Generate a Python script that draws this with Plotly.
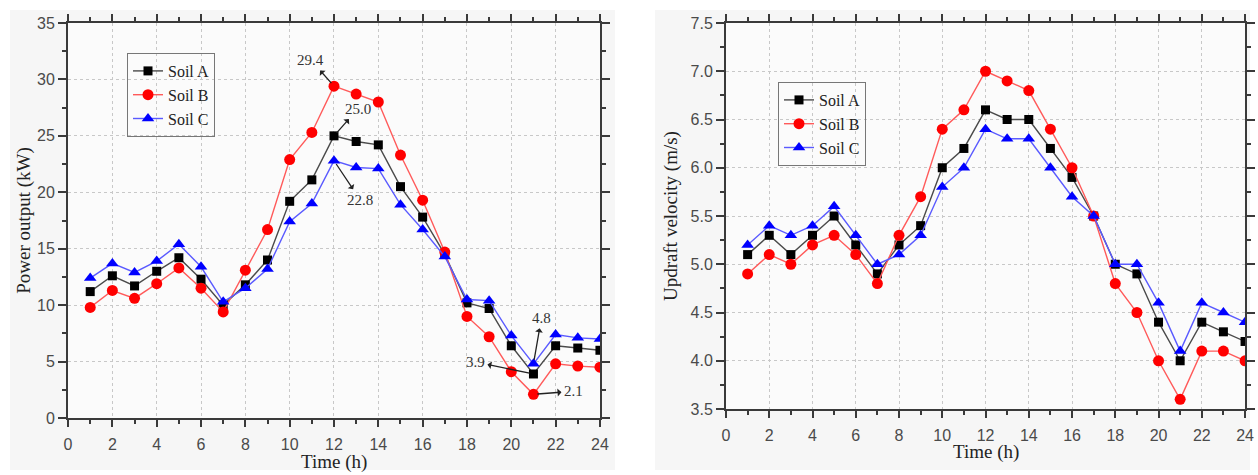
import plotly.graph_objects as go

# Hour of day
hours = list(range(1, 25))

# Power output (kW) per soil type
power_soil_a = [11.2, 12.6, 11.7, 13.0, 14.2, 12.3, 10.0, 11.8, 14.0, 19.2, 21.1, 25.0,
                24.5, 24.2, 20.5, 17.8, 14.5, 10.2, 9.7, 6.4, 3.9, 6.4, 6.2, 6.0]
power_soil_b = [9.8, 11.3, 10.6, 11.9, 13.3, 11.5, 9.4, 13.1, 16.7, 22.9, 25.3, 29.4,
                28.7, 28.0, 23.3, 19.3, 14.7, 9.0, 7.2, 4.1, 2.1, 4.8, 4.6, 4.5]
power_soil_c = [12.4, 13.7, 12.9, 13.9, 15.4, 13.4, 10.3, 11.5, 13.2, 17.4, 19.0, 22.8,
                22.2, 22.1, 18.9, 16.7, 14.3, 10.5, 10.4, 7.3, 4.8, 7.4, 7.1, 7.0]

# Updraft velocity (m/s) per soil type
velocity_soil_a = [5.1, 5.3, 5.1, 5.3, 5.5, 5.2, 4.9, 5.2, 5.4, 6.0, 6.2, 6.6,
                   6.5, 6.5, 6.2, 5.9, 5.5, 5.0, 4.9, 4.4, 4.0, 4.4, 4.3, 4.2]
velocity_soil_b = [4.9, 5.1, 5.0, 5.2, 5.3, 5.1, 4.8, 5.3, 5.7, 6.4, 6.6, 7.0,
                   6.9, 6.8, 6.4, 6.0, 5.5, 4.8, 4.5, 4.0, 3.6, 4.1, 4.1, 4.0]
velocity_soil_c = [5.2, 5.4, 5.3, 5.4, 5.6, 5.3, 5.0, 5.1, 5.3, 5.8, 6.0, 6.4,
                   6.3, 6.3, 6.0, 5.7, 5.5, 5.0, 5.0, 4.6, 4.1, 4.6, 4.5, 4.4]

series_names = ["Soil A", "Soil B", "Soil C"]

# Labelled points on the power chart: (hour, value, text offset x, text offset y)
power_callouts = [
    (12, 29.4, -23, -26),
    (12, 25.0, 24, -27),
    (12, 22.8, 26, 39),
    (21, 4.8, 8, -46),
    (21, 3.9, -58, -12),
    (21, 2.1, 40, -3),
]

styles = [
    dict(marker=dict(symbol="square", size=9, color="#000000"), line=dict(color="#4a4a4a", width=1.4)),
    dict(marker=dict(symbol="circle", size=11, color="#ff0000"), line=dict(color="#ff5a5a", width=1.4)),
    dict(marker=dict(symbol="triangle-up", size=11, color="#0000ff"), line=dict(color="#5a5aff", width=1.4)),
]

SERIF = "Liberation Serif"
SANS = "Liberation Sans"
AXIS_COLOR = "#3a3a3a"
TICK_FONT = dict(family=SANS, size=16, color="#4a4a4a")
TITLE_FONT = dict(family=SERIF, size=19, color="#222222")

fig = go.Figure()

for name, ys, st in zip(series_names, [power_soil_a, power_soil_b, power_soil_c], styles):
    fig.add_trace(go.Scatter(x=hours, y=ys, name=name, mode="lines+markers",
                             marker=st["marker"], line=st["line"],
                             xaxis="x", yaxis="y", legend="legend"))

for name, ys, st in zip(series_names, [velocity_soil_a, velocity_soil_b, velocity_soil_c], styles):
    fig.add_trace(go.Scatter(x=hours, y=ys, name=name, mode="lines+markers",
                             marker=st["marker"], line=st["line"],
                             xaxis="x2", yaxis="y2", legend="legend2"))

left_dom = [0.0541, 0.4769]
right_dom = [0.5771, 0.9897]
left_ydom = [0.12, 0.9516]
right_ydom = [0.1389, 0.9516]


def x_axis(domain, anchor):
    return dict(domain=domain, anchor=anchor, range=[0, 24], dtick=2, tick0=0,
                automargin=False,
                showline=True, mirror="ticks", linecolor=AXIS_COLOR, linewidth=2,
                ticks="outside", ticklen=7, tickwidth=1.5, tickcolor=AXIS_COLOR,
                minor=dict(dtick=1, ticks="outside", ticklen=4, tickwidth=1.5, tickcolor=AXIS_COLOR,
                           showgrid=False),
                showgrid=True, gridcolor="#c8c8c8", griddash="dot", gridwidth=1,
                zeroline=False, tickfont=TICK_FONT, ticklabelstandoff=4)


def y_axis(domain, anchor, rng, dtick, minor_dtick, fmt, title, standoff):
    return dict(domain=domain, anchor=anchor, range=rng, dtick=dtick, tick0=rng[0],
                automargin=False,
                showline=True, mirror="ticks", linecolor=AXIS_COLOR, linewidth=2,
                ticks="outside", ticklen=8, tickwidth=1.5, tickcolor=AXIS_COLOR,
                minor=dict(dtick=minor_dtick, ticks="outside", ticklen=4, tickwidth=1.5,
                           tickcolor=AXIS_COLOR, showgrid=False),
                showgrid=True, gridcolor="#c8c8c8", griddash="dot", gridwidth=1,
                zeroline=False, tickfont=TICK_FONT, tickformat=fmt,
                title=dict(text=title, font=TITLE_FONT, standoff=standoff))


legend_style = dict(font=dict(family=SERIF, size=16, color="#222222"),
                    bgcolor="rgba(0,0,0,0)", bordercolor="#777777", borderwidth=1,
                    xanchor="left", yanchor="top", itemwidth=30, tracegroupgap=0)

annotations = []
for hx, val, ax, ay in power_callouts:
    annotations.append(dict(x=hx, y=val, xref="x", yref="y", text=f"{val:.1f}",
                            showarrow=True, ax=ax, ay=ay, arrowside="start",
                            arrowhead=2, arrowsize=0.9, arrowwidth=1.3, arrowcolor="#222222",
                            standoff=4, startstandoff=1,
                            font=dict(family=SERIF, size=15, color="#333333")))

# Horizontal axis titles, centred under each panel (vertical centre in pixels from top)
for dom, title_px in ((left_dom, 462), (right_dom, 452)):
    annotations.append(dict(text="Time (h)", xref="paper", yref="paper",
                            x=(dom[0] + dom[1]) / 2, y=1 - title_px / 475,
                            xanchor="center", yanchor="middle", showarrow=False,
                            font=TITLE_FONT))

# Light grey figure panels separated by white gutters
gutters = [
    (0, 1258, 0, 10),
    (0, 1258, 470, 475),
    (0, 10, 0, 475),
    (615, 655, 0, 475),
    (1250, 1258, 0, 475),
]
shapes = [
    dict(type="rect", xref="paper", yref="paper", x0=x0 / 1258, x1=x1 / 1258,
         y0=1 - y1 / 475, y1=1 - y0 / 475, fillcolor="#ffffff", line=dict(width=0), layer="below")
    for x0, x1, y0, y1 in gutters
]

fig.update_layout(
    width=1258, height=475,
    margin=dict(l=0, r=0, t=0, b=0, autoexpand=False),
    font=dict(family=SERIF),
    paper_bgcolor="#f6f6f6", plot_bgcolor="#fbfbfb",
    xaxis=x_axis(left_dom, "y"),
    yaxis=y_axis(left_ydom, "x", [0, 35], 5, 2.5, "d", "Power output (kW)", 1),
    xaxis2=x_axis(right_dom, "y2"),
    yaxis2=y_axis(right_ydom, "x2", [3.5, 7.5], 0.5, 0.25, ".1f", "Updraft velocity (m/s)", 8),
    legend=dict(x=127 / 1258, y=1 - 53 / 475, **legend_style),
    legend2=dict(x=778 / 1258, y=1 - 82 / 475, **legend_style),
    annotations=annotations,
    shapes=shapes,
    showlegend=True,
)

fig.write_html("out.html")
